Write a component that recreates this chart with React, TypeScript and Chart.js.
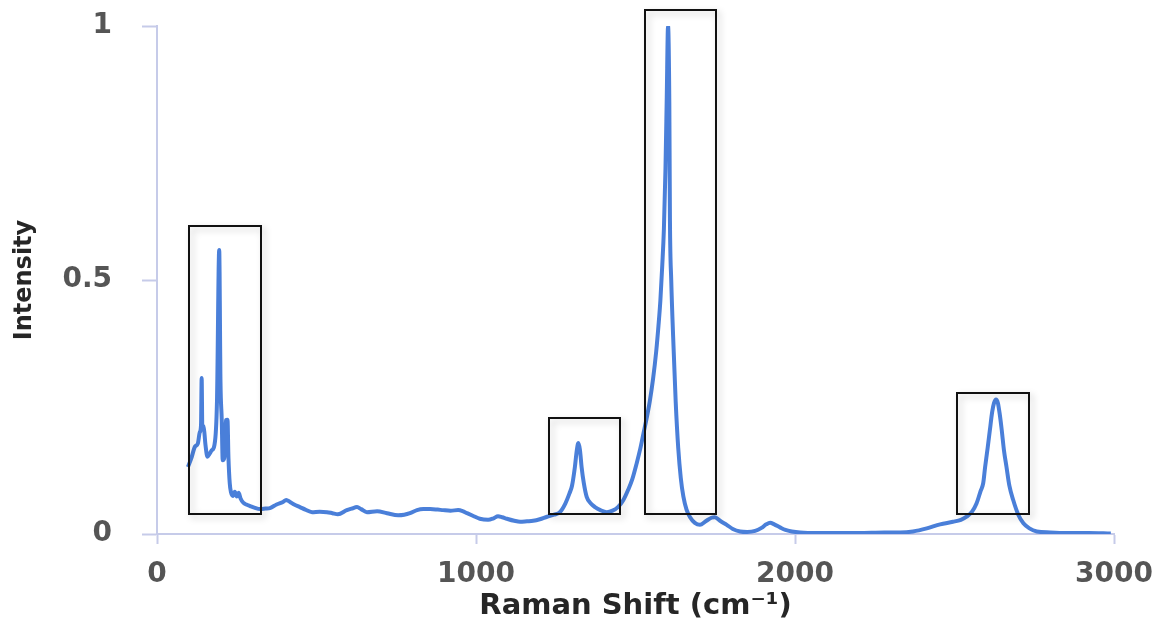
import React, { useEffect, useRef } from "react";
import { Chart, registerables } from "chart.js";

Chart.register(...registerables);

// Raman spectrum: shift (cm⁻¹) and normalised intensity
const ramanShift = [
  97, 108, 119, 128, 134, 138, 140, 142, 146, 152, 158, 165, 172, 180, 188, 195, 199, 203, 206, 211,
  216, 221, 224, 228, 232, 238, 244, 250, 256, 262, 270, 280, 292, 305, 323, 340, 354, 375, 395, 405,
  417, 430, 448, 465, 486, 510, 533, 550, 567, 595, 610, 627, 640, 658, 690, 721, 756, 775, 793, 815,
  835, 856, 880, 897, 920, 944, 958, 972, 990, 1012, 1038, 1055, 1069, 1082, 1097, 1120, 1138, 1160, 1179, 1200,
  1223, 1245, 1263, 1280, 1293, 1301, 1310, 1316, 1321, 1326, 1331, 1338, 1347, 1360, 1373, 1390, 1410, 1428, 1445, 1462,
  1477, 1490, 1504, 1515, 1525, 1535, 1545, 1555, 1565, 1572, 1578, 1584, 1589, 1594, 1598, 1602, 1606, 1608, 1612, 1619,
  1626, 1634, 1642, 1650, 1660, 1671, 1686, 1702, 1720, 1738, 1749, 1765, 1786, 1805, 1828, 1850, 1875, 1895, 1910, 1922,
  1935, 1953, 1970, 1990, 2016, 2070, 2119, 2200, 2280, 2330, 2370, 2413, 2455, 2495, 2520, 2538, 2555, 2569, 2582, 2590,
  2596, 2604, 2611, 2618, 2624, 2630, 2636, 2642, 2648, 2655, 2663, 2672, 2684, 2700, 2716, 2735, 2758, 2800, 2852, 2920,
  2990,
];

const intensity = [
  0.132, 0.15, 0.172, 0.178, 0.2, 0.215, 0.307, 0.215, 0.212, 0.175, 0.152, 0.158, 0.165, 0.175, 0.26, 0.559, 0.3, 0.224, 0.145, 0.15,
  0.224, 0.225, 0.15, 0.1, 0.082, 0.075, 0.083, 0.074, 0.081, 0.07, 0.062, 0.058, 0.055, 0.052, 0.049, 0.05, 0.051, 0.058, 0.063, 0.067,
  0.063, 0.058, 0.053, 0.048, 0.043, 0.044, 0.043, 0.041, 0.039, 0.047, 0.05, 0.053, 0.049, 0.043, 0.045, 0.041, 0.037, 0.038, 0.041, 0.047,
  0.049, 0.049, 0.048, 0.047, 0.046, 0.047, 0.045, 0.041, 0.036, 0.03, 0.028, 0.031, 0.035, 0.033, 0.03, 0.026, 0.024, 0.025, 0.026, 0.029,
  0.034, 0.038, 0.043, 0.06, 0.08, 0.095, 0.132, 0.165, 0.179, 0.165, 0.132, 0.1, 0.073, 0.06, 0.053, 0.047, 0.043, 0.046, 0.053, 0.067,
  0.087, 0.108, 0.14, 0.168, 0.198, 0.228, 0.262, 0.305, 0.36, 0.41, 0.46, 0.53, 0.6, 0.72, 0.86, 1.0, 0.85, 0.617, 0.5, 0.372,
  0.26, 0.169, 0.11, 0.074, 0.048, 0.033, 0.022, 0.018, 0.025, 0.032, 0.033, 0.026, 0.018, 0.01, 0.005, 0.004, 0.006, 0.012, 0.019, 0.022,
  0.019, 0.013, 0.008, 0.005, 0.003, 0.002, 0.002, 0.002, 0.003, 0.003, 0.005, 0.011, 0.019, 0.024, 0.028, 0.034, 0.044, 0.06, 0.085, 0.1,
  0.132, 0.17, 0.205, 0.24, 0.258, 0.265, 0.258, 0.235, 0.205, 0.165, 0.132, 0.095, 0.067, 0.038, 0.021, 0.011, 0.005, 0.003, 0.002, 0.002,
  0.001,
];

// Highlighted peak regions: [xStart, xEnd, yBottom, yTop]
const boxXStart = [100, 1229, 1530, 2508];
const boxXEnd = [326, 1451, 1752, 2734];
const boxYBottom = [0.039, 0.039, 0.039, 0.039];
const boxYTop = [0.606, 0.228, 1.031, 0.278];

const xTicks = [0, 1000, 2000, 3000];
const yTicks = [0, 0.5, 1];

const AXIS_COLOR = "#c6cbe9";
const LINE_COLOR = "#4a7fd9";
const TICK_COLOR = "#555555";
const TITLE_COLOR = "#262626";

const peakBoxes = {
  id: "peakBoxes",
  afterDatasetsDraw(chart: any) {
    const { ctx, scales } = chart;
    const xs = scales.x;
    const ys = scales.y;
    ctx.save();
    for (let i = 0; i < boxXStart.length; i++) {
      const x0 = Math.round(xs.getPixelForValue(boxXStart[i]));
      const x1 = Math.round(xs.getPixelForValue(boxXEnd[i]));
      const y0 = Math.round(ys.getPixelForValue(boxYTop[i]));
      const y1 = Math.round(ys.getPixelForValue(boxYBottom[i]));
      ctx.shadowColor = "rgba(0,0,0,0.22)";
      ctx.shadowBlur = 7;
      ctx.shadowOffsetX = 3;
      ctx.shadowOffsetY = 3;
      ctx.strokeStyle = "#111111";
      ctx.lineWidth = 2;
      ctx.strokeRect(x0, y0, x1 - x0, y1 - y0);
    }
    ctx.restore();
  },
};

export default function App() {
  const canvasRef = useRef<HTMLCanvasElement | null>(null);

  useEffect(() => {
    if (!canvasRef.current) return;
    const points = ramanShift.map((x, i) => ({ x, y: intensity[i] }));
    const chart = new Chart(canvasRef.current, {
      type: "line",
      data: {
        datasets: [
          {
            data: points,
            borderColor: LINE_COLOR,
            borderWidth: 4,
            pointRadius: 0,
            cubicInterpolationMode: "monotone",
            fill: false,
          },
        ],
      },
      options: {
        animation: false,
        responsive: true,
        maintainAspectRatio: false,
        layout: { padding: { left: 0, top: 26, right: 57, bottom: 0 } },
        plugins: { legend: { display: false }, tooltip: { enabled: false } },
        scales: {
          x: {
            type: "linear",
            min: 0,
            max: 3000,
            afterBuildTicks: (scale: any) => {
              scale.ticks = xTicks.map((v) => ({ value: v }));
            },
            afterFit: (scale: any) => {
              scale.height = 95;
            },
            border: { display: true, color: AXIS_COLOR, width: 2 },
            grid: { drawOnChartArea: false, drawTicks: true, tickLength: 10, color: AXIS_COLOR, tickWidth: 2 },
            ticks: {
              color: TICK_COLOR,
              padding: 14,
              maxRotation: 0,
              callback: (v: any) => String(v),
              font: { family: "DejaVu Sans", size: 28, weight: "bold" },
            },
            title: {
              display: true,
              text: "Raman Shift (cm⁻¹)",
              color: TITLE_COLOR,
              padding: { top: 0, bottom: 5 },
              font: { family: "DejaVu Sans", size: 29, weight: "bold" },
            },
          },
          y: {
            type: "linear",
            min: 0,
            max: 1,
            afterBuildTicks: (scale: any) => {
              scale.ticks = yTicks.map((v) => ({ value: v }));
            },
            afterFit: (scale: any) => {
              scale.width = 157;
              scale.paddingTop = 0;
              scale.paddingBottom = 0;
            },
            border: { display: true, color: AXIS_COLOR, width: 2 },
            grid: { drawOnChartArea: false, drawTicks: true, tickLength: 15, color: AXIS_COLOR, tickWidth: 2 },
            ticks: {
              color: TICK_COLOR,
              padding: 30,
              callback: (v: any) => String(v),
              font: { family: "DejaVu Sans", size: 28, weight: "bold" },
            },
            title: {
              display: true,
              text: "Intensity",
              color: TITLE_COLOR,
              padding: { top: 10, bottom: 0 },
              font: { family: "DejaVu Sans", size: 24, weight: "bold" },
            },
          },
        },
      },
      plugins: [peakBoxes],
    } as any);
    return () => chart.destroy();
  }, []);

  return (
    <div style={{ position: "fixed", left: 0, top: 0, width: 1171, height: 629, background: "#ffffff" }}>
      <canvas ref={canvasRef} />
    </div>
  );
}
